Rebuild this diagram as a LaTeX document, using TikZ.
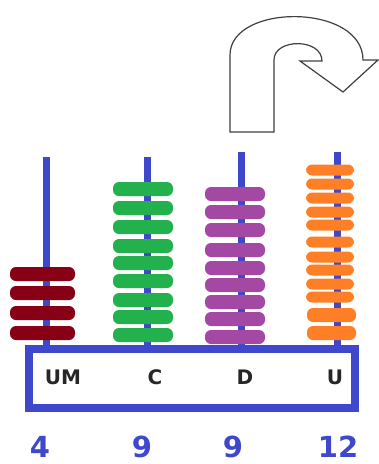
\documentclass[tikz,border=0pt]{standalone}
\usepackage{fontspec}
\setmainfont{DejaVu Sans}
\begin{document}
\definecolor{rodblue}{HTML}{3F48CC}
\definecolor{beadred}{HTML}{880015}
\definecolor{beadgreen}{HTML}{22B14C}
\definecolor{beadpurple}{HTML}{A349A4}
\definecolor{beadorange}{HTML}{FF7F27}
\begin{tikzpicture}[x=1pt,y=-1pt,
  rod/.style={draw=rodblue,line width=7pt},
  frame/.style={draw=rodblue,line width=8pt},
  bead/.style={rounded corners=6pt},
  place/.style={font=\bfseries\fontsize{20}{20}\selectfont,text=black!85,inner sep=0pt},
  digit/.style={font=\bfseries\fontsize{29}{29}\selectfont,text=rodblue,inner sep=0pt},
  turn/.style={draw=black!75,line width=1.2pt,fill=white,line join=miter}]
\useasboundingbox (0,0) rectangle (379,464);
% rods
\draw[rod] (46,157) -- (46,346);
\draw[rod] (147,157) -- (147,346);
\draw[rod] (241,152) -- (241,346);
\draw[rod] (337,152) -- (337,346);
% beads stacked on each rod
\foreach \y in {274,293,313,333}
  \fill[beadred,bead] (10,\y-7) rectangle (75,\y+7);
\foreach \y in {189,208,227,246,263,281,300,317,335}
  \fill[beadgreen,bead] (113,\y-7) rectangle (173,\y+7);
\foreach \y in {194,212,230,250,268,285,302,319,337}
  \fill[beadpurple,bead] (205,\y-7) rectangle (265,\y+7);
\foreach \y in {170,184,198,212,225,242,257,270,284,297}
  \fill[beadorange,bead] (306,\y-5.5) rectangle (354,\y+5.5);
\foreach \y in {315,333}
  \fill[beadorange,bead] (307,\y-7) rectangle (356,\y+7);
% base frame
\draw[frame] (29,349) rectangle (355,408);
\node[place] (um) at (63,377) {UM};
\node[place] (c) at (155,377) {C};
\node[place] (d) at (245,377) {D};
\node[place] (u) at (335,377) {U};
\node[digit] (n1) at (40,447) {4};
\node[digit] (n2) at (142,447) {9};
\node[digit] (n3) at (233,447) {9};
\node[digit] (n4) at (338,447) {12};
% carry arrow
\draw[turn] (230,132) -- (230,55) .. controls (230,3) and (363,3) .. (363,60)
  -- (378,60) -- (343,92) -- (300,61) -- (322,61)
  .. controls (322,38) and (274,38) .. (274,60) -- (274,132) -- cycle;
\end{tikzpicture}
\end{document}
